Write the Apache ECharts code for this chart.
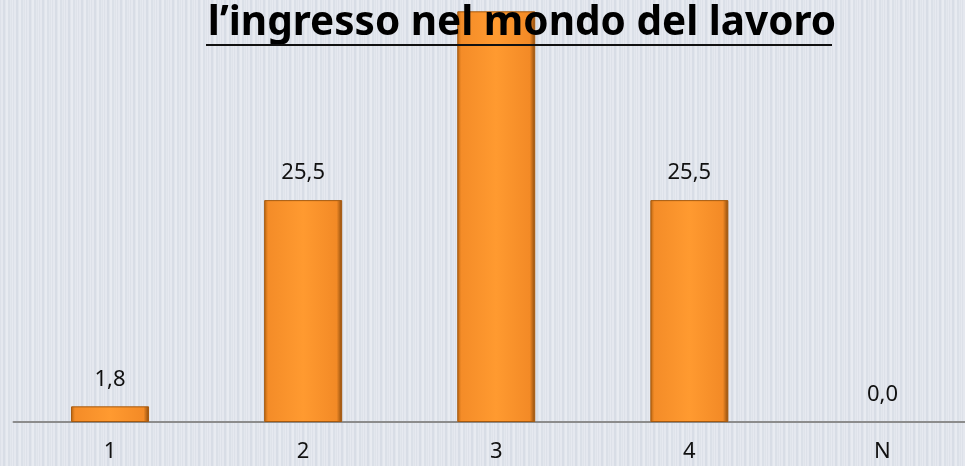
<!DOCTYPE html>
<html>
<head>
<meta charset="utf-8">
<script src="https://cdn.jsdelivr.net/npm/echarts@6/dist/echarts.min.js"></script>
<style>
  html, body { margin: 0; padding: 0; overflow: hidden; }
  /* il grafico esce un po' a destra, come nell'originale */
  #main { width: 979px; height: 466px; }
</style>
</head>
<body>
<div id="main"></div>
<script>
  // dati
  var categories = ['1', '2', '3', '4', 'N'];
  var values = [1.8, 25.5, 47.2, 25.5, 0.0];
  var titleText = 'l\u2019ingresso nel mondo del lavoro';

  // sfondo a righe verticali
  var stripe = document.createElement('canvas');
  stripe.width = 13;
  stripe.height = 10;
  var ctx = stripe.getContext('2d');
  var cols = ['#dde1e9', '#e5e8ef', '#e5e8ef', '#d8dde6', '#d8dde6', '#e1e5ec', '#e8ebf1', '#e8ebf1', '#dbe0e8', '#dbe0e8', '#e3e7ee', '#dfe3ea', '#e6e9f0'];
  for (var i = 0; i < cols.length; i++) {
    ctx.fillStyle = cols[i];
    ctx.fillRect(i, 0, 1, 10);
  }

  var barColor = new echarts.graphic.LinearGradient(0, 0, 1, 0, [
    { offset: 0, color: '#b8640f' },
    { offset: 0.05, color: '#f48c28' },
    { offset: 0.5, color: '#ff9a30' },
    { offset: 0.93, color: '#f38a26' },
    { offset: 1, color: '#8a4a0c' }
  ]);

  // la barra a zero non si vede, resta solo l'etichetta
  var barData = values.map(function (v) {
    return {
      value: v,
      itemStyle: v === 0 ? { color: 'transparent', borderWidth: 0 } : {}
    };
  });

  var myChart = echarts.init(document.getElementById('main'));

  var option = {
    backgroundColor: { image: stripe, repeat: 'repeat' },
    animation: false,
    title: {
      text: titleText,
      left: 517,
      textAlign: 'center',
      top: -2,
      textStyle: {
        fontFamily: 'Noto Sans',
        fontWeight: 'bold',
        fontSize: 40.5,
        color: '#000'
      }
    },
    graphic: [{
      type: 'rect',
      shape: { x: 206, y: 44, width: 626, height: 2 },
      style: { fill: '#111' },
      z: 100
    }],
    grid: {
      left: 13.5,
      right: 0,
      top: 0,
      bottom: 44
    },
    xAxis: {
      type: 'category',
      data: categories,
      axisLine: { lineStyle: { color: '#8c8c8c', width: 2 } },
      axisTick: { show: false },
      axisLabel: {
        margin: 19,
        fontFamily: 'Noto Sans',
        fontSize: 22,
        color: '#111'
      }
    },
    yAxis: {
      type: 'value',
      min: 0,
      max: 48.5,
      show: false,
      splitLine: { show: false }
    },
    series: [{
      type: 'bar',
      data: barData,
      barWidth: 78,
      itemStyle: {
        color: barColor,
        borderColor: '#a6590d',
        borderWidth: 1
      },
      label: {
        show: true,
        position: 'top',
        distance: 16,
        fontFamily: 'Noto Sans',
        fontSize: 22,
        color: '#111',
        formatter: function (p) {
          return p.value.toFixed(1).replace('.', ',');
        }
      }
    }]
  };

  myChart.setOption(option);
</script>
</body>
</html>
